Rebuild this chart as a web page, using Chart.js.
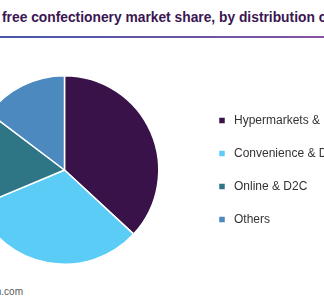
<!DOCTYPE html>
<html>
<head>
<meta charset="utf-8">
<script src="https://cdn.jsdelivr.net/npm/chart.js@4.4.1/dist/chart.umd.min.js"></script>
<style>
  html, body { margin: 0; padding: 0; background: #fff; overflow: hidden; width: 324px; height: 300px; }
  #title {
    position: absolute; left: 2px; top: 10px; white-space: nowrap;
    font: bold 13.8px "Liberation Sans", Arial, sans-serif; color: #3a1652;
  }
  #rule {
    position: absolute; left: 0; top: 36px; width: 324px; height: 2px;
    background: linear-gradient(to right, #4659a8, #8652a2);
  }
  #wrap { position: absolute; left: -66px; top: 75px; width: 411px; height: 190px; }
  #source {
    position: absolute; right: 301px; top: 286px; white-space: nowrap;
    font: 10px "Liberation Sans", Arial, sans-serif; color: #5a5a5a;
  }
</style>
</head>
<body>
<div id="title">free confectionery market share, by distribution channel, 2023 (%)</div>
<div id="rule"></div>
<div id="wrap"><canvas id="pieChart"></canvas></div>
<div id="source">Source: www.grandviewresearch.com</div>

<script>
const channels = ['Hypermarkets & Supermarkets', 'Convenience & Drug Stores', 'Online & D2C', 'Others'];
const shares = [36.9, 31.8, 16.6, 14.7];
const colors = ['#381249', '#5bccf6', '#2e7686', '#4b89bf'];

let ctx = document.getElementById('pieChart').getContext('2d');

const config = {
  type: 'pie',
  data: {
    labels: channels,
    datasets: [{
      data: shares,
      backgroundColor: colors,
      borderColor: '#ffffff',
      borderWidth: 1.5
    }]
  },
  options: {
    responsive: true,
    maintainAspectRatio: false,
    animation: false,
    plugins: {
      tooltip: { enabled: false },
      legend: {
        position: 'right',
        maxWidth: 150,
        labels: {
          usePointStyle: true,
          pointStyle: 'rect',
          boxHeight: 7,
          boxWidth: 12,
          padding: 21,
          color: '#333333',
          font: { family: '"Liberation Sans", Arial, sans-serif', size: 12 }
        }
      }
    }
  }
};

let pieChart = new Chart(ctx, config);
</script>
</body>
</html>
